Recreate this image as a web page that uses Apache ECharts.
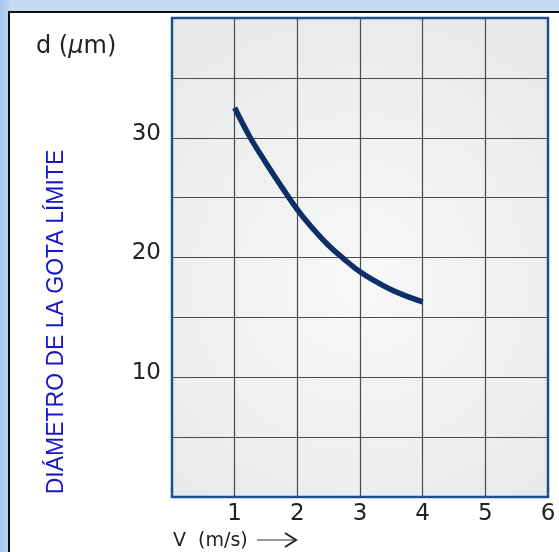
<!DOCTYPE html>
<html><head><meta charset="utf-8">
<script src="https://cdn.jsdelivr.net/npm/echarts@6/dist/echarts.min.js"></script>
<style>html,body{margin:0;padding:0;background:#c3d8f3;}#c{width:559px;height:552px;}</style>
</head><body><div id="c"></div>
<script>
const velocity = [1, 1.25, 1.5, 1.75, 2, 2.25, 2.5, 2.75, 3, 3.25, 3.5, 3.75, 4];
const diameter = [32.5, 30.0, 27.9, 25.9, 24.0, 22.4, 21.0, 19.85, 18.8, 18.0, 17.3, 16.75, 16.3];
const xTickLabels = ['1', '2', '3', '4', '5', '6'];
const yTickLabels = ['10', '20', '30'];

const chart = echarts.init(document.getElementById('c'), null, {renderer: 'canvas'});
const font = '"Liberation Sans", Arial, sans-serif';
const wfont = '"DejaVu Sans", sans-serif';
chart.setOption({
  backgroundColor: {type: 'linear', x: 0, y: 0, x2: 1, y2: 0, colorStops: [{offset: 0, color: '#a9c6ee'}, {offset: 0.02, color: '#c3d8f3'}, {offset: 1, color: '#c3d8f3'}]},
  animation: false,
  graphic: [
    {type: 'rect', z: -10, shape: {x: 9, y: 12, width: 560, height: 560}, style: {fill: '#ffffff', stroke: '#111', lineWidth: 2}},
    {type: 'text', left: 36, top: 35, style: {text: '{a|d (}{b|μ}{a|m)}', rich: {a: {fontSize: 24, fontFamily: wfont, fill: '#222'}, b: {fontSize: 24, fontFamily: wfont, fontStyle: 'italic', fill: '#222'}}}},
    {type: 'text', x: 57, y: 322, rotation: Math.PI / 2, style: {text: 'DIÁMETRO DE LA GOTA LÍMITE', fontSize: 23, fontFamily: font, fill: '#1717c8', align: 'center', verticalAlign: 'middle'}},
    {type: 'text', x: 173, y: 541, style: {text: 'V  (m/s)', fontSize: 19, fontFamily: wfont, fill: '#222', verticalAlign: 'middle'}},
    {type: 'polyline', shape: {points: [[257, 540], [295, 540]]}, style: {stroke: '#777', lineWidth: 1.5, fill: null}},
    {type: 'polyline', shape: {points: [[285, 533], [296, 540], [285, 547]]}, style: {stroke: '#222', lineWidth: 2, fill: null}}
  ],
  grid: {left: 172, right: 11, top: 18, bottom: 55, show: true, borderColor: '#1e4f8e', borderWidth: 2.5,
    backgroundColor: {type: 'radial', x: 0.5, y: 0.55, r: 0.75, colorStops: [{offset: 0, color: '#f7f8f8'}, {offset: 1, color: '#e8e9ea'}]}},
  xAxis: {type: 'value', min: 0, max: 6, interval: 1,
    axisLine: {show: false}, axisTick: {show: false},
    splitLine: {show: true, showMinLine: false, showMaxLine: false, lineStyle: {color: '#4a4a4a', width: 1.2}},
    axisLabel: {margin: 6, fontSize: 23, lineHeight: 23, fontFamily: wfont, color: '#222',
      formatter: v => xTickLabels.includes(String(v)) ? String(v) : ''}},
  yAxis: {type: 'value', min: 0, max: 40, interval: 5,
    axisLine: {show: false}, axisTick: {show: false},
    splitLine: {show: true, showMinLine: false, showMaxLine: false, lineStyle: {color: '#4a4a4a', width: 1.2}},
    axisLabel: {margin: 11, fontSize: 23, lineHeight: 8, verticalAlign: 'bottom', fontFamily: wfont, color: '#222',
      formatter: v => yTickLabels.includes(String(v)) ? String(v) : ''}},
  series: [{type: 'line', smooth: 0.4, showSymbol: false, data: velocity.map((v, i) => [v, diameter[i]]),
    lineStyle: {color: '#0c2f68', width: 5.5, cap: 'butt'}}]
});
</script></body></html>
